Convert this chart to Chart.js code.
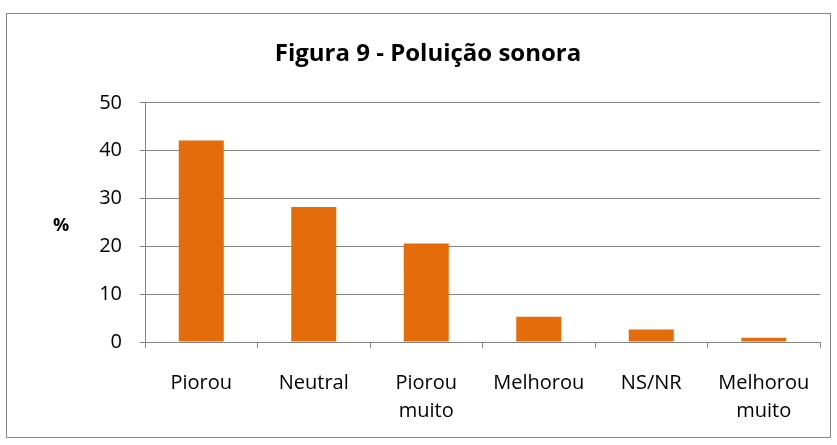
<!DOCTYPE html>
<html>
<head>
<meta charset="utf-8">
<script src="https://cdn.jsdelivr.net/npm/chart.js@4.4.1/dist/chart.umd.min.js"></script>
<style>
  html, body { margin: 0; padding: 0; background: #fff; }
  #wrap { position: relative; width: 837px; height: 445px; }
  #frame { position: absolute; left: 6px; top: 13px; width: 823px; height: 423px; border: 1px solid #868686; pointer-events: none; }
</style>
</head>
<body>
<div id="wrap">
  <canvas id="chart" width="837" height="445"></canvas>
  <div id="frame"></div>
</div>
<script>
const categories = ['Piorou', 'Neutral', ['Piorou', 'muito'], 'Melhorou', 'NS/NR', ['Melhorou', 'muito']];
const percentages = [42.1, 28.2, 20.6, 5.3, 2.6, 0.9];
const yTicks = [0, 10, 20, 30, 40, 50];

const FONT = '"Open Sans", Lato, sans-serif';
const gridGray = '#868686';

// horizontal "%" label beside the y axis
const percentLabel = {
    id: 'percentLabel',
    afterDraw(chart) {
        const ctx = chart.ctx;
        const area = chart.chartArea;
        ctx.save();
        ctx.font = 'bold 18px ' + FONT;
        ctx.fillStyle = '#000';
        ctx.textAlign = 'center';
        ctx.textBaseline = 'middle';
        ctx.fillText('%', 61, (area.top + area.bottom) / 2 + 3);
        ctx.restore();
    }
};

const ctx = document.getElementById('chart').getContext('2d');
new Chart(ctx, {
    type: 'bar',
    data: {
        labels: categories,
        datasets: [{
            data: percentages,
            backgroundColor: '#E46C0A',
            borderWidth: 0,
            barPercentage: 0.4,
            categoryPercentage: 1
        }]
    },
    options: {
        responsive: false,
        animation: false,
        layout: { padding: { left: 36, right: 17, top: 0, bottom: 0 } },
        plugins: {
            legend: { display: false },
            tooltip: { enabled: false },
            title: {
                display: true,
                text: 'Figura 9 - Poluição sonora',
                color: '#000',
                font: { family: FONT, size: 24, weight: 'bold' },
                padding: { top: 40, bottom: 34 }
            }
        },
        scales: {
            y: {
                min: 0,
                max: 50,
                afterBuildTicks: scale => { scale.ticks = yTicks.map(v => ({ value: v })); },
                afterFit: scale => { scale.width = 109; },
                border: { display: true, color: gridGray, width: 1 },
                grid: { color: gridGray, lineWidth: 1, drawTicks: true, tickLength: 5, tickColor: gridGray },
                ticks: { color: '#000', font: { family: FONT, size: 20 }, padding: 18 }
            },
            x: {
                afterFit: scale => { scale.height = 103; },
                border: { display: true, color: gridGray, width: 1 },
                grid: { offset: true, drawOnChartArea: false, drawTicks: true, tickLength: 6, tickColor: gridGray, color: gridGray },
                ticks: { color: '#000', font: { family: FONT, size: 20, lineHeight: 1.4 }, padding: 21, maxRotation: 0, autoSkip: false }
            }
        }
    },
    plugins: [percentLabel]
});
</script>
</body>
</html>
